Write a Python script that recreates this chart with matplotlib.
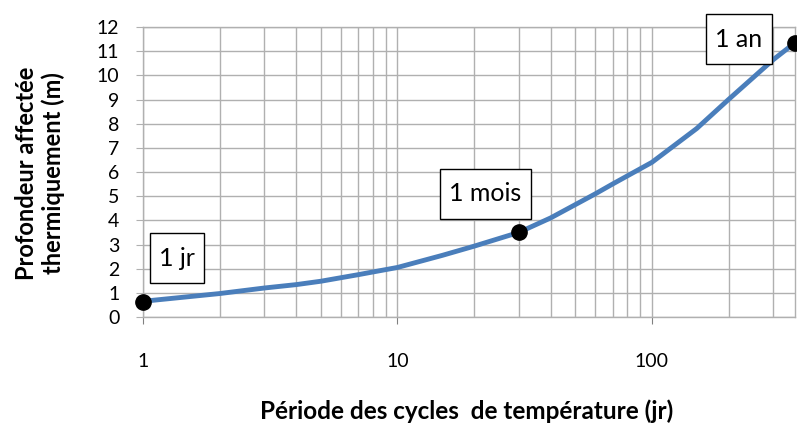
import numpy as np
import matplotlib
matplotlib.use('Agg')
import matplotlib.pyplot as plt
from matplotlib.path import Path
from matplotlib.ticker import FixedLocator, LogLocator, NullFormatter

# Values (period in days, depth in m).
period_days = [1, 2, 3, 4, 5, 7, 10, 15, 20, 30, 40, 50, 60, 70, 100, 150, 200, 300, 365]
depth_m = [0.65, 0.97, 1.2, 1.34, 1.48, 1.75, 2.05, 2.55, 2.93, 3.5, 4.1, 4.65, 5.1, 5.5,
           6.4, 7.8, 9.0, 10.65, 11.35]

# Highlighted points and their labels.
marker_days = [1, 30, 365]
marker_depth = [0.62, 3.5, 11.35]
marker_labels = ['1 jr', '1 mois', '1 an']
label_pos = [(1.36, 2.44), (22.2, 5.1), (220, 11.5)]

x_ticks = [1, 10, 100]
y_ticks = list(range(0, 13))

plt.rcParams['font.family'] = ['Lato', 'DejaVu Sans']


def label_box(x0, y0, width, height, mutation_size):
    # square box, a bit more padding above and below than at the sides
    pad_x = 0.38 * mutation_size
    pad_y = 0.55 * mutation_size
    x0, y0 = x0 - pad_x, y0 - pad_y
    x1, y1 = x0 + width + 2 * pad_x, y0 + height + 2 * pad_y
    return Path([(x0, y0), (x1, y0), (x1, y1), (x0, y1), (x0, y0)], closed=True)


fig = plt.figure(figsize=(7.97, 4.23), dpi=100)
ax = fig.add_axes([143 / 797, 1 - 317 / 423, (795 - 143) / 797, (317 - 27) / 423])

grid_color = '#b0b0b0'
ax.set_xscale('log')
ax.set_xlim(1, 365)
ax.set_ylim(0, 12)

ax.xaxis.set_major_locator(FixedLocator(x_ticks))
ax.xaxis.set_minor_locator(LogLocator(base=10, subs=np.arange(2, 10)))
ax.xaxis.set_minor_formatter(NullFormatter())
ax.set_xticklabels([str(t) for t in x_ticks])
ax.set_yticks(y_ticks)

ax.grid(which='both', axis='x', color=grid_color, linewidth=1)
ax.grid(which='major', axis='y', color=grid_color, linewidth=1)
ax.set_axisbelow(True)

for side in ['left', 'right', 'top', 'bottom']:
    ax.spines[side].set_color(grid_color)
    ax.spines[side].set_linewidth(1)

ax.tick_params(axis='x', which='major', length=5, color='#808080', pad=21, labelsize=14)
ax.tick_params(axis='x', which='minor', length=0)
ax.tick_params(axis='y', which='major', length=5, color=grid_color, pad=12, labelsize=14)

# Depth curve and the three marked periods.
ax.plot(period_days, depth_m, color='#4a7ebb', linewidth=3.5, solid_capstyle='round',
        solid_joinstyle='round', zorder=3)
ax.plot(marker_days, marker_depth, 'o', color='black', markersize=11, zorder=4, clip_on=False)

for (tx, ty), label in zip(label_pos, marker_labels):
    ax.text(tx, ty, label, fontsize=18, ha='center', va='center', zorder=5,
            bbox=dict(boxstyle=label_box, facecolor='white', edgecolor='black', linewidth=1))

fig.text(467 / 797, 1 - 411 / 423, 'Période des cycles  de température (jr)',
         fontsize=17.5, fontweight='bold', ha='center', va='center')
fig.text(40 / 797, 1 - 173 / 423, 'Profondeur affectée\nthermiquement (m)',
         fontsize=17, fontweight='bold', ha='center', va='center', rotation=90, linespacing=1.2)

plt.savefig('out.png', dpi=100)
